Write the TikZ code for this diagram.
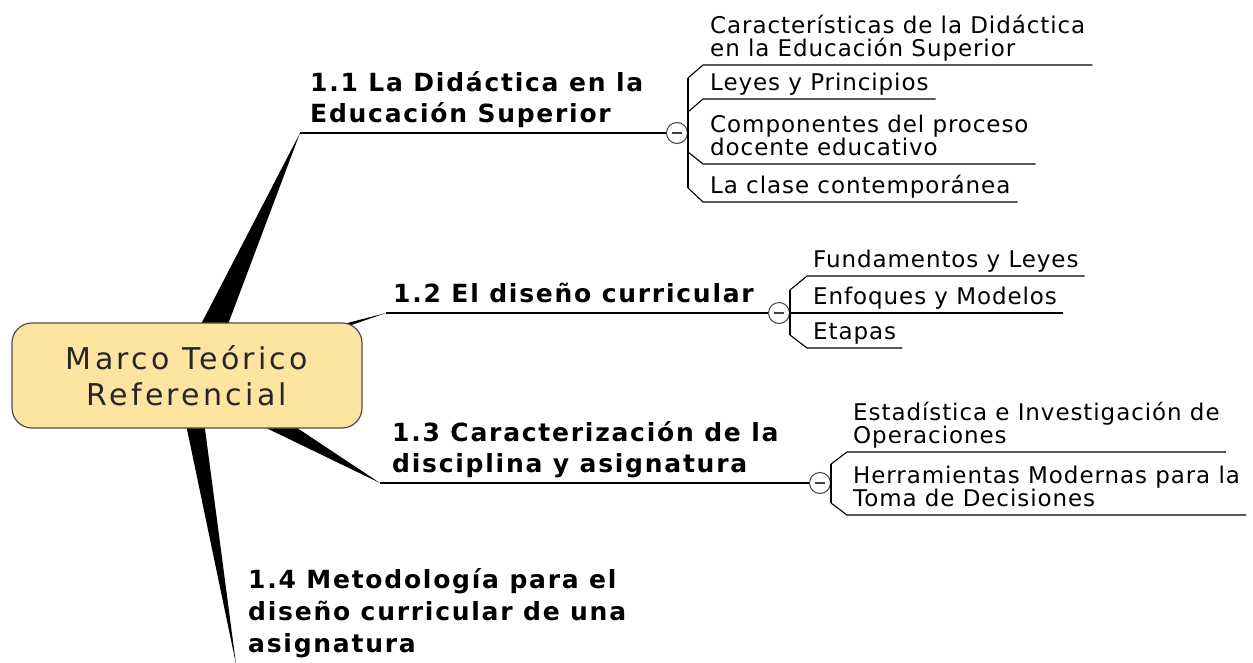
\documentclass[tikz,border=0pt]{standalone}
\usepackage{fontspec}
\usetikzlibrary{backgrounds}
\newfontfamily\rootfont[LetterSpace=11]{DejaVu Sans}
\newfontfamily\topicfont[LetterSpace=7]{DejaVu Sans}
\newfontfamily\leaffont[LetterSpace=4]{DejaVu Sans}
\definecolor{rootfill}{RGB}{253,228,161}

\begin{document}
\begin{tikzpicture}[x=1pt,y=-1pt,
    rootbox/.style={draw=black!70, line width=1.2pt, fill=rootfill, rounded corners=20pt,
      minimum width=350pt, minimum height=105pt, align=center, text=black!85,
      font=\rootfont\fontsize{30}{36}\selectfont},
    topic/.style={anchor=south west, align=left, inner xsep=0pt, inner ysep=1pt,
      font=\topicfont\bfseries\fontsize{25}{31}\selectfont, execute at end node=\strut},
    leaf/.style={anchor=south west, align=left, inner xsep=7pt, inner ysep=1pt, text=black,
      font=\leaffont\fontsize{23}{23.3}\selectfont, execute at end node=\strut},
    fold/.style={circle, draw=black!75, fill=white, line width=1pt, minimum size=21pt, inner sep=0pt,
      path picture={\draw[line width=1.1pt] ([xshift=-5pt]path picture bounding box.center)
        -- ([xshift=5pt]path picture bounding box.center);}},
    spoke/.style={fill=black},
    limb/.style={line width=1.4pt},
    twig/.style={line width=1.1pt}]
    \useasboundingbox (0,0) rectangle (1253,662);

    % central topic
    \node[rootbox] (root) at (187,375.5) {Marco Teórico\\Referencial};

    % main branches
    \coordinate (k1) at (300,133);
    \coordinate (k2) at (386,313);
    \coordinate (k3) at (380,483);
    \coordinate (k4) at (236,664);
    \node[fold] (c1) at (677,133) {};
    \node[fold] (c2) at (779,313) {};
    \node[fold] (c3) at (820,483) {};
    \begin{scope}[on background layer]
        \fill[spoke] ([shift={(3,-30)}]root.center) -- ([shift={(33,-30)}]root.center) -- (k1) -- cycle;
        \fill[spoke] ([shift={(143,-48)}]root.center) -- ([shift={(143,-43)}]root.center) -- (k2) -- cycle;
        \fill[spoke] ([shift={(42,34.5)}]root.center) -- ([shift={(83,34.5)}]root.center) -- (k3) -- cycle;
        \fill[spoke] ([shift={(-4,34.5)}]root.center) -- ([shift={(15.5,34.5)}]root.center) -- (k4) -- cycle;
    \end{scope}
    \draw[limb] (k1) -- (c1);
    \draw[limb] (k2) -- (c2);
    \draw[limb] (k3) -- (c3);

    \node[topic] (t1) at ([xshift=10pt]k1) {1.1 La Didáctica en la\\Educación Superior};
    \node[topic] (t2) at ([xshift=7pt]k2) {1.2 El diseño curricular};
    \node[topic] (t3) at ([xshift=12pt]k3) {1.3 Caracterización de la\\disciplina y asignatura};
    \node[topic, anchor=base west, font=\topicfont\bfseries\fontsize{25}{32}\selectfont] (t4) at (248,652)
        {1.4 Metodología para el\\diseño curricular de una\\asignatura};

    % sub-topics of 1.1
    \coordinate (v1a) at (688,78);
    \coordinate (v1b) at (688,112);
    \coordinate (v1c) at (688,152);
    \coordinate (v1d) at (688,188);
    \node[leaf] (s11) at (703,65) {Características de la Didáctica\\en la Educación Superior};
    \node[leaf] (s12) at (703,99) {Leyes y Principios};
    \node[leaf] (s13) at (703,164) {Componentes del proceso\\docente educativo};
    \node[leaf] (s14) at (703,202) {La clase contemporánea};
    \draw[twig] (v1a) -- (v1d);
    \draw[twig] (v1a) -- (s11.south west) -- (s11.south east);
    \draw[twig] (v1b) -- (s12.south west) -- (s12.south east);
    \draw[twig] (v1c) -- (s13.south west) -- (s13.south east);
    \draw[twig] (v1d) -- (s14.south west) -- (s14.south east);

    % sub-topics of 1.2
    \coordinate (v2a) at (790,290);
    \coordinate (v2b) at (790,335);
    \node[leaf, inner xsep=6pt] (s21) at (807,276) {Fundamentos y Leyes};
    \node[leaf, inner xsep=6pt] (s22) at (807,313) {Enfoques y Modelos};
    \node[leaf, inner xsep=6pt] (s23) at (807,348) {Etapas};
    \draw[twig] (v2a) -- (v2b);
    \draw[twig] (v2a) -- (s21.south west) -- (s21.south east);
    \draw[twig] (c2.east) -- (s22.south west) -- (s22.south east);
    \draw[twig] (v2b) -- (s23.south west) -- (s23.south east);

    % sub-topics of 1.3
    \coordinate (v3a) at (831,464);
    \coordinate (v3b) at (831,503);
    \node[leaf, inner xsep=6pt] (s31) at (847,452) {Estadística e Investigación de\\Operaciones};
    \node[leaf, inner xsep=6pt] (s32) at (847,515) {Herramientas Modernas para la\\Toma de Decisiones};
    \draw[twig] (v3a) -- (v3b);
    \draw[twig] (v3a) -- (s31.south west) -- (s31.south east);
    \draw[twig] (v3b) -- (s32.south west) -- (s32.south east);
\end{tikzpicture}
\end{document}
